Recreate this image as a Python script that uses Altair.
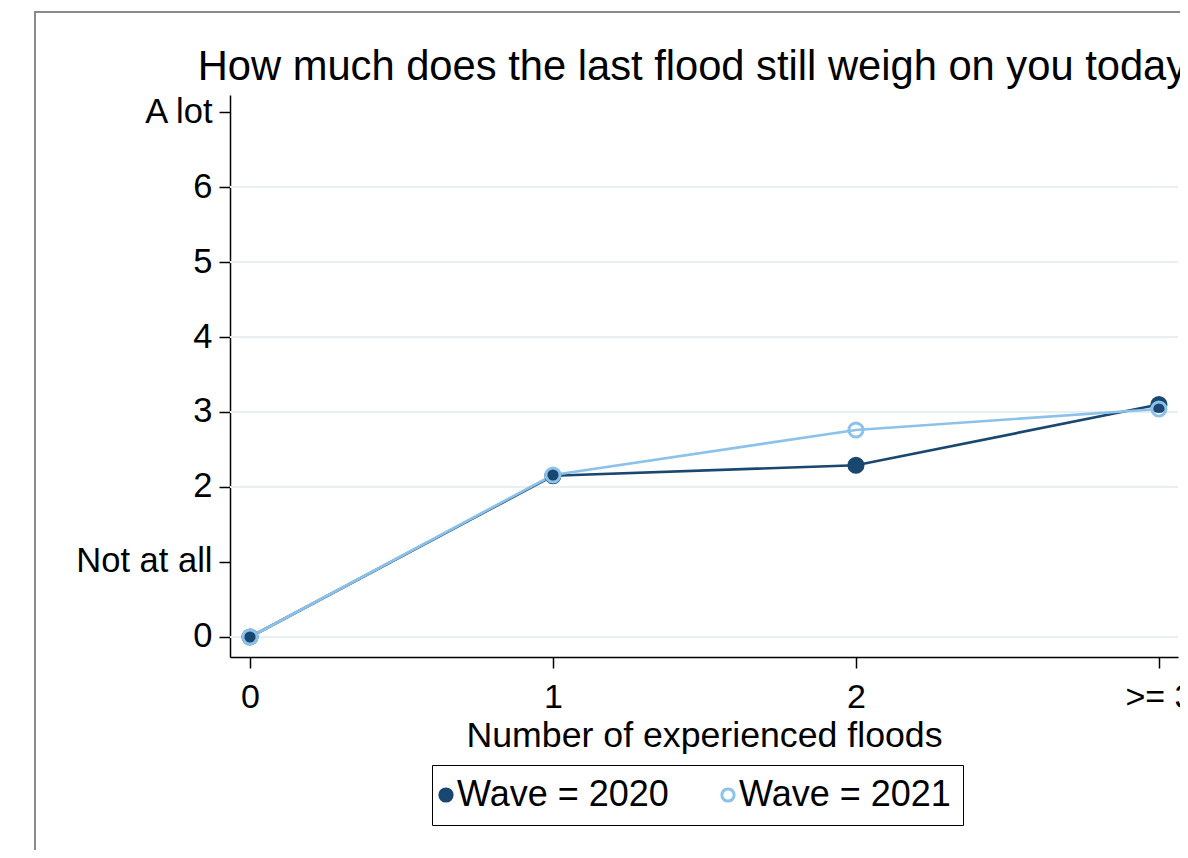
import altair as alt
import pandas as pd

# ---- data ----
x_values = [0, 1, 2, 3]
x_labels = ["0", "1", "2", ">= 3"]
waves = ["2020", "2021"]
wave_2020 = [0.0, 2.15, 2.29, 3.10]
wave_2021 = [0.0, 2.16, 2.76, 3.04]
y_tick_values = [0, 1, 2, 3, 4, 5, 6, 7]
y_tick_labels = ["0", "Not at all", "2", "3", "4", "5", "6", "A lot"]
grid_values = [0, 2, 3, 4, 5, 6]

title_text = "How much does the last flood still weigh on you today?"
x_title = "Number of experienced floods"

line_colors = ["#1a476f", "#8cc2ea"]
fill_colors = ["#1a476f", "transparent"]
FONT = "Liberation Sans"

rows = []
for w, vals in zip(waves, [wave_2020, wave_2021]):
    for xv, yv in zip(x_values, vals):
        rows.append({"floods": xv, "weigh": yv, "wave": w})
df = pd.DataFrame(rows)
grid_df = pd.DataFrame({"weigh": grid_values})
frame_df = pd.DataFrame({"frame": [0]})


def label_expr(values, labels):
    expr = "datum.label"
    for v, l in reversed(list(zip(values, labels))):
        expr = f"datum.value == {v} ? '{l}' : ({expr})"
    return expr


x_scale = alt.Scale(domain=[-0.066, 3.063], nice=False, zero=False)
y_scale = alt.Scale(domain=[-0.2667, 7.2267], nice=False, zero=False)

x_axis = alt.Axis(
    values=x_values, labelExpr=label_expr(x_values, x_labels), grid=False,
    tickSize=11, tickWidth=1.5, tickColor="black", domainColor="black",
    domainWidth=1.5, labelPadding=12, labelFont=FONT, labelFontSize=34,
    labelColor="black", labelFlush=False, labelOverlap=False,
    title=x_title, titleFont=FONT, titleFontSize=35.7, titleFontWeight="normal",
    titleColor="black", titleBaseline="alphabetic", titleY=89,
)
y_axis = alt.Axis(
    values=y_tick_values, labelExpr=label_expr(y_tick_values, y_tick_labels),
    grid=False, tickSize=11, tickWidth=1.5, tickColor="black",
    domainColor="black", domainWidth=1.5, labelPadding=7, labelFont=FONT,
    labelFontSize=34.5, labelColor="black", labelFlush=False, labelOverlap=False,
)

frame = alt.Chart(frame_df).mark_rect(
    fill="transparent", stroke="#8a8a8a", strokeWidth=2
).encode(
    x=alt.value(-195), x2=alt.value(1500), y=alt.value(-83), y2=alt.value(1000)
)

grid = alt.Chart(grid_df).mark_rule(color="#e8eff2", strokeWidth=2).encode(
    y=alt.Y("weigh:Q", scale=y_scale, axis=y_axis, title=None)
)

color_scale = alt.Scale(domain=waves, range=line_colors)
fill_scale = alt.Scale(domain=waves, range=fill_colors)

legend = alt.Legend(
    orient="none", legendX=202, legendY=670, direction="horizontal",
    title=None, labelExpr="'Wave = ' + datum.label", labelFont=FONT,
    labelFontSize=36, labelColor="black", strokeColor="black", labelLimit=500,
    fillColor="white", padding=12, symbolSize=150, symbolStrokeWidth=3,
    symbolType="circle", symbolOffset={"expr": "-16"},
    labelOffset={"expr": "-7"}, columnPadding=46,
)

base = alt.Chart(df).encode(
    x=alt.X("floods:Q", scale=x_scale, axis=x_axis),
    y=alt.Y("weigh:Q", scale=y_scale, axis=y_axis, title=None),
)

lines = base.mark_line(strokeWidth=2.7).encode(
    color=alt.Color("wave:N", scale=color_scale, legend=legend),
    detail="wave:N",
)

points = base.mark_point(filled=False, size=200, strokeWidth=3, opacity=1).encode(
    color=alt.Color("wave:N", scale=color_scale, legend=legend),
    fill=alt.Fill("wave:N", scale=fill_scale, legend=legend),
)

chart = alt.layer(frame, grid, lines, points).properties(
    width=948,
    height=562,
    title=alt.TitleParams(
        text=title_text, font=FONT, fontSize=41.7, fontWeight="normal",
        color="black", anchor="middle", frame="group", baseline="alphabetic",
        offset=15, dy=126,
    ),
    autosize=alt.AutoSizeParams(type="none"),
    padding={"left": 222, "top": 87, "right": 2, "bottom": 193},
    background="white",
).configure_view(strokeWidth=0)

chart.save("out.html", embed_options={"renderer": "svg", "actions": False})
